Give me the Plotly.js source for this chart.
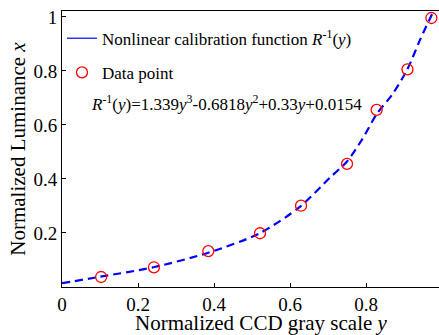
<!DOCTYPE html>
<html>
<head>
<meta charset="utf-8">
<script src="https://cdn.plot.ly/plotly-3.0.1.min.js"></script>
<style>html,body{margin:0;padding:0;background:#fff;}#chart{width:439px;height:335px;}</style>
</head>
<body>
<div id="chart"></div>
<script>
// Fitted calibration curve
const curveX = [0, 0.1, 0.24, 0.385, 0.52, 0.626, 0.705, 0.75, 0.789, 0.828, 0.87, 0.909, 0.942, 0.975];
const curveY = [0.014, 0.038, 0.073, 0.127, 0.199, 0.297, 0.405, 0.465, 0.545, 0.64, 0.715, 0.807, 0.915, 1.014];
// Measured data points
const dataX = [0.103, 0.242, 0.385, 0.521, 0.629, 0.750, 0.828, 0.909, 0.972];
const dataY = [0.037, 0.073, 0.133, 0.199, 0.301, 0.456, 0.656, 0.806, 0.996];
// Tick labels
const xTickVals = [0, 0.2, 0.4, 0.6, 0.8];
const xTickText = ["0", "0.2", "0.4", "0.6", "0.8"];
const yTickVals = [0.2, 0.4, 0.6, 0.8, 1];
const yTickText = ["0.2", "0.4", "0.6", "0.8", "1"];

const serif = 'Liberation Serif, Times New Roman, serif';

const traces = [
  {x: curveX, y: curveY, type: 'scatter', mode: 'lines', showlegend: false,
   line: {color: '#0000ff', width: 2.2, dash: '8px,5px', shape: 'spline', smoothing: 0.8}},
  {x: [null], y: [null], type: 'scatter', mode: 'lines', legendgroup: 'a',
   name: 'Nonlinear calibration function <i>R</i><sup>-1</sup>(<i>y</i>)',
   line: {color: '#3333ff', width: 1.5}},
  {x: dataX, y: dataY, type: 'scatter', mode: 'markers', legendgroup: 'b', name: 'Data point',
   marker: {symbol: 'circle-open', size: 11, color: '#ff0000', line: {width: 1.3, color: '#ff0000'}}}
];

const layout = {
  width: 439, height: 335,
  margin: {l: 62, r: 0, t: 11, b: 48},
  paper_bgcolor: '#fff', plot_bgcolor: '#fff',
  font: {family: serif, color: '#000', size: 19},
  xaxis: {range: [0, 0.992], tickvals: xTickVals, ticktext: xTickText,
          ticks: 'inside', ticklen: 4, tickcolor: '#000', showgrid: false, zeroline: false,
          showline: true, linecolor: '#000', linewidth: 1, mirror: true,
          tickfont: {family: serif, size: 19, color: '#000'}},
  yaxis: {range: [0, 1.022], tickvals: yTickVals, ticktext: yTickText,
          ticks: 'inside', ticklen: 4, tickcolor: '#000', showgrid: false, zeroline: false,
          showline: true, linecolor: '#000', linewidth: 1,
          tickfont: {family: serif, size: 19, color: '#000'},
          title: {text: 'Normalized Luminance <i>x</i>', font: {family: serif, size: 21, color: '#000'}, standoff: 2}},
  legend: {x: 0.0, y: 0.965, xanchor: 'left', yanchor: 'top', bgcolor: 'rgba(0,0,0,0)',
           font: {family: serif, size: 17, color: '#000'}, tracegroupgap: 9},
  annotations: [
    {xref: 'paper', yref: 'paper', x: 0.53, y: -0.131, xanchor: 'center', yanchor: 'middle', showarrow: false,
     text: 'Normalized CCD gray scale <i>y</i>', font: {family: serif, size: 21, color: '#000'}},
    {xref: 'paper', yref: 'paper', x: 0.072, y: 0.667, xanchor: 'left', yanchor: 'middle', showarrow: false,
     text: '<i>R</i><sup>-1</sup>(<i>y</i>)=1.339<i>y</i><sup>3</sup>-0.6818<i>y</i><sup>2</sup>+0.33<i>y</i>+0.0154',
     font: {family: serif, size: 17, color: '#000'}}
  ]
};

Plotly.newPlot('chart', traces, layout, {displayModeBar: false, staticPlot: true});
</script>
</body>
</html>
